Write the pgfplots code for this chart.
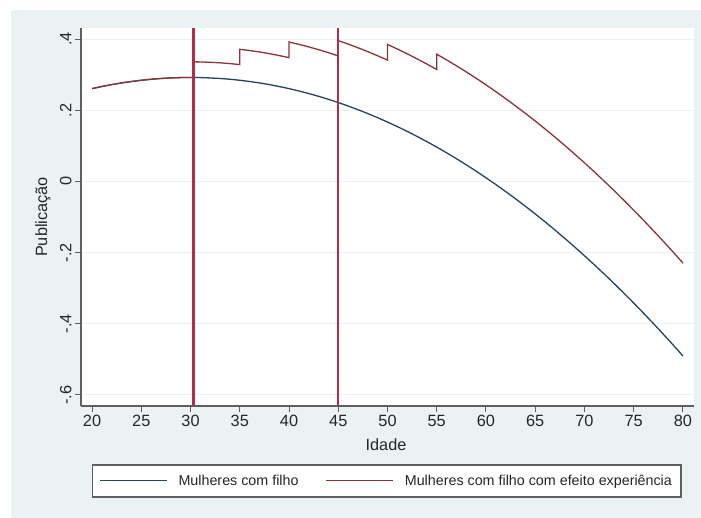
\documentclass[border=0pt]{standalone}
\usepackage{pgfplots}
\pgfplotsset{compat=1.18}
\usepackage{fontspec}
\setmainfont{Liberation Sans}
\definecolor{bgc}{RGB}{234,242,243}
\definecolor{navyc}{RGB}{38,68,96}
\definecolor{maroonc}{RGB}{140,52,60}
\definecolor{vlinec}{RGB}{175,45,75}
\definecolor{axc}{RGB}{95,95,95}
\definecolor{gridc}{RGB}{236,241,243}
\begin{document}
\begin{tikzpicture}
\path[use as bounding box] (0pt,0pt) rectangle (701pt,-518pt);
\fill[white] (0pt,0pt) rectangle (701pt,-518pt);
\fill[bgc] (11pt,-10pt) rectangle (701pt,-518pt);
\begin{axis}[
  at={(81pt,-406pt)}, anchor=south west,
  scale only axis, width=613pt, height=378pt,
  xmin=18.88, xmax=81.12, ymin=-0.631, ymax=0.431,
  axis background/.style={fill=white},
  axis x line*=bottom, axis y line*=left,
  axis line style={axc, line width=1.2pt, -},
  tick align=outside, major tick length=6pt,
  tick style={axc, line width=1pt},
  xtick={20,25,30,35,40,45,50,55,60,65,70,75,80},
  ytick={-0.6,-0.4,-0.2,0,0.2,0.4},
  yticklabels={-.6,-.4,-.2,0,.2,.4},
  /pgf/number format/assume math mode=true,
  ticklabel style={font=\fontsize{16.3}{18}\selectfont, text=black!85},
  yticklabel style={rotate=90, anchor=south},
  ymajorgrids, major grid style={gridc, line width=1pt},
  xlabel={Idade}, ylabel={Publicação},
  label style={font=\fontsize{16.3}{18}\selectfont, text=black!85},
  xlabel style={at={(axis description cs:0.4976,-0.103)}, anchor=center},
  ylabel style={at={(axis description cs:-0.062,0.5)}, anchor=center},
  legend columns=2,
  legend cell align=left,
  legend style={at={(0.4985,-0.198)}, anchor=center, draw=axc, line width=1.4pt,
    fill=white, font=\fontsize{14.3}{16}\selectfont, text=black!85,
    inner xsep=7pt, inner ysep=8pt,
    /tikz/every odd column/.append style={column sep=9pt},
    /tikz/every even column/.append style={column sep=25pt}},
  legend image code/.code={\draw[#1] (0pt,0pt) -- (67pt,0pt);},
]
\addplot[navyc, line width=1.3pt] coordinates {
(20,0.2607) (21,0.2666) (22,0.2720) (23,0.2767) (24,0.2807) (25,0.2842)
(26,0.2870) (27,0.2892) (28,0.2907) (29,0.2917) (30,0.2920) (31,0.2917)
(32,0.2907) (33,0.2892) (34,0.2870) (35,0.2842) (36,0.2807) (37,0.2767)
(38,0.2720) (39,0.2666) (40,0.2607) (41,0.2541) (42,0.2469) (43,0.2391)
(44,0.2307) (45,0.2216) (46,0.2119) (47,0.2015) (48,0.1906) (49,0.1790)
(50,0.1668) (51,0.1540) (52,0.1405) (53,0.1264) (54,0.1117) (55,0.0964)
(56,0.0804) (57,0.0638) (58,0.0466) (59,0.0288) (60,0.0103) (61,-0.0088)
(62,-0.0285) (63,-0.0489) (64,-0.0698) (65,-0.0914) (66,-0.1136) (67,-0.1365)
(68,-0.1600) (69,-0.1841) (70,-0.2088) (71,-0.2342) (72,-0.2601) (73,-0.2867)
(74,-0.3140) (75,-0.3418) (76,-0.3703) (77,-0.3994) (78,-0.4292) (79,-0.4595)
(80,-0.4905)};
\addlegendentry{Mulheres com filho}
\addplot[maroonc, line width=1.3pt] coordinates {
(20,0.2607) (21,0.2666) (22,0.2720) (23,0.2767) (24,0.2807) (25,0.2842)
(26,0.2870) (27,0.2892) (28,0.2907) (29,0.2917) (30,0.2920) (30.3,0.2920)
(30.3,0.3360) (31,0.3357) (32,0.3347) (33,0.3332) (34,0.3310) (35,0.3282)
(35,0.3712) (36,0.3677) (37,0.3637) (38,0.3590) (39,0.3536) (40,0.3477)
(40,0.3917) (41,0.3851) (42,0.3779) (43,0.3701) (44,0.3617) (45,0.3526)
(45,0.3956) (46,0.3859) (47,0.3755) (48,0.3646) (49,0.3530) (50,0.3408)
(50,0.3848) (51,0.3720) (52,0.3585) (53,0.3444) (54,0.3297) (55,0.3144)
(55,0.3574) (56,0.3414) (57,0.3248) (58,0.3076) (59,0.2898) (60,0.2713)
(61,0.2522) (62,0.2325) (63,0.2121) (64,0.1912) (65,0.1696) (66,0.1474)
(67,0.1245) (68,0.1010) (69,0.0769) (70,0.0522) (71,0.0268) (72,0.0009)
(73,-0.0257) (74,-0.0530) (75,-0.0808) (76,-0.1093) (77,-0.1384) (78,-0.1682)
(79,-0.1985) (80,-0.2295)};
\addlegendentry{Mulheres com filho com efeito experiência}
\addplot[vlinec, line width=2.2pt, forget plot] coordinates {(30.3,-0.631) (30.3,0.431)};
\addplot[vlinec, line width=2.2pt, forget plot] coordinates {(45,-0.631) (45,0.431)};
\end{axis}
\end{tikzpicture}
\end{document}
